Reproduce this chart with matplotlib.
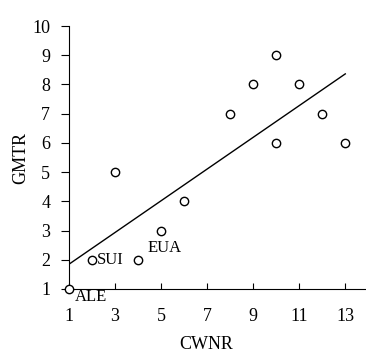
import numpy as np
import matplotlib.pyplot as plt

plt.rcParams["font.family"] = ["Liberation Serif", "DejaVu Serif"]

cwnr = [1, 2, 3, 4, 5, 6, 8, 9, 10, 10, 11, 12, 13]
gmtr = [1, 2, 5, 2, 3, 4, 7, 8, 9, 6, 8, 7, 6]

labels = ["ALE", "SUI", "EUA"]
label_pos = [(1.25, 0.72), (2.2, 2.0), (4.4, 2.4)]

xticks = [1, 3, 5, 7, 9, 11, 13]
yticks = list(range(1, 11))

fig = plt.figure(figsize=(3.66, 3.52), dpi=100)
ax = fig.add_axes([0.1885, 0.179, 0.8115, 0.747])

# least squares line
slope, intercept = np.polyfit(cwnr, gmtr, 1)
xs = np.array([1, 13])
ax.plot(xs, slope * xs + intercept, color="black", lw=1.0)

ax.plot(
    cwnr, gmtr,
    linestyle="none",
    marker="o",
    markersize=6,
    markerfacecolor="white",
    markeredgecolor="black",
    markeredgewidth=1.0,
    clip_on=False,
    zorder=3
)

for lab, (tx, ty) in zip(labels, label_pos):
    ax.text(tx, ty, lab, fontsize=12, ha="left", va="center")

ax.set_xlim(1, 13.9)
ax.set_ylim(1, 10)
ax.set_xticks(xticks)
ax.set_yticks(yticks)

ax.spines["top"].set_visible(False)
ax.spines["right"].set_visible(False)

ax.tick_params(axis="x", direction="in", length=4, labelsize=13, pad=14)
ax.tick_params(axis="y", direction="out", length=5.5, labelsize=13, pad=8)

ax.set_xlabel("CWNR", fontsize=13)
ax.set_ylabel("GMTR", fontsize=13)
ax.xaxis.set_label_coords(0.461, -0.178)
ax.yaxis.set_label_coords(-0.135, 0.5)

fig.savefig("out.png", dpi=100)
